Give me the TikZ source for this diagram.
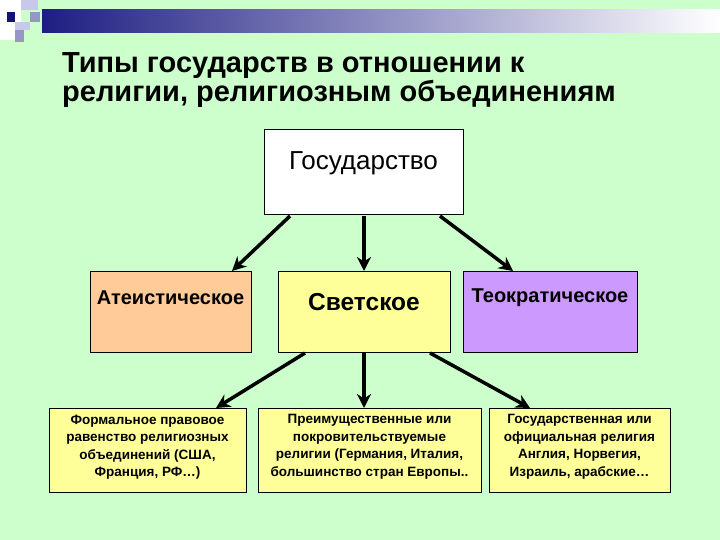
\documentclass[tikz,border=0pt]{standalone}
\usepackage{fontspec}
\setmainfont{Liberation Sans}
\usetikzlibrary{arrows.meta}
\definecolor{bg}{RGB}{204,255,204}
\definecolor{dkb}{RGB}{30,30,130}
\definecolor{sq1}{RGB}{200,200,235}
\definecolor{sq2}{RGB}{20,20,120}
\definecolor{sq3}{RGB}{150,150,200}
\definecolor{orng}{RGB}{255,204,153}
\definecolor{ylw}{RGB}{255,255,153}
\definecolor{vio}{RGB}{204,153,255}
\begin{document}
\begin{tikzpicture}[x=1pt,y=-1pt,
  box/.style={draw=black,line width=1pt},
  arr/.style={line width=3.5pt,-{Stealth[length=14pt,width=14pt]}},
  small/.style={font=\bfseries\fontsize{13.5}{17.5}\selectfont,align=center}]
\useasboundingbox (0,0) rectangle (720,540);
\fill[bg] (0,0) rectangle (720,540);
\shade[left color=dkb,right color=white] (42,10) rectangle (720,33);
\fill[white] (0,0) rectangle (21,40);
\fill[sq1] (21,0) rectangle (38,10);
\fill[sq2] (7,12) rectangle (15,22);
\fill[sq1] (15,22) rectangle (30,30);
\fill[sq3] (30,12) rectangle (40,22);
\fill[sq3] (15,30) rectangle (24,42);
\node[anchor=north west,align=left,font=\bfseries\fontsize{29}{29}\selectfont,inner sep=0pt] (title) at (62,52) {Типы государств в отношении к\\религии, религиозным объединениям};
\draw[box,fill=white] (264,130) rectangle (463,215);
\node[font=\fontsize{26}{28}\selectfont] (stt) at (363.5,163) {Государство};
\draw[box,fill=orng] (90,271) rectangle (251,352);
\draw[box,fill=ylw] (278,271) rectangle (450,352);
\draw[box,fill=vio] (463,271) rectangle (637,352);
\node[font=\bfseries\fontsize{20}{22}\selectfont] (a) at (170.5,298) {Атеистическое};
\node[font=\bfseries\fontsize{24.5}{26}\selectfont] (s) at (364,302) {Светское};
\node[font=\bfseries\fontsize{20}{22}\selectfont] (t) at (550,298) {Теократическое};
\draw[box,fill=ylw] (49,408) rectangle (246,492);
\draw[box,fill=ylw] (258,408) rectangle (481,492);
\draw[box,fill=ylw] (489,408) rectangle (670,492);
\node[small] (b1) at (147.5,447) {Формальное правовое\\равенство религиозных\\объединений (США,\\Франция, РФ…)};
\node[small] (b2) at (369.5,447) {Преимущественные или\\покровительствуемые\\религии (Германия, Италия,\\большинство стран Европы..};
\node[small] (b3) at (579.5,447) {Государственная или\\официальная религия\\Англия, Норвегия,\\Израиль, арабские…};
\coordinate (s1) at (290,216); \coordinate (s2) at (364,216); \coordinate (s3) at (440,216);
\coordinate (a1) at (232,271); \coordinate (a2) at (364,271); \coordinate (a3) at (513,271);
\draw[arr] (s1) -- (a1); \draw[arr] (s2) -- (a2); \draw[arr] (s3) -- (a3);
\coordinate (m1) at (305,353); \coordinate (m2) at (364,353); \coordinate (m3) at (430,353);
\coordinate (e1) at (216,408); \coordinate (e2) at (364,408); \coordinate (e3) at (530,408);
\draw[arr] (m1) -- (e1); \draw[arr] (m2) -- (e2); \draw[arr] (m3) -- (e3);
\end{tikzpicture}
\end{document}
